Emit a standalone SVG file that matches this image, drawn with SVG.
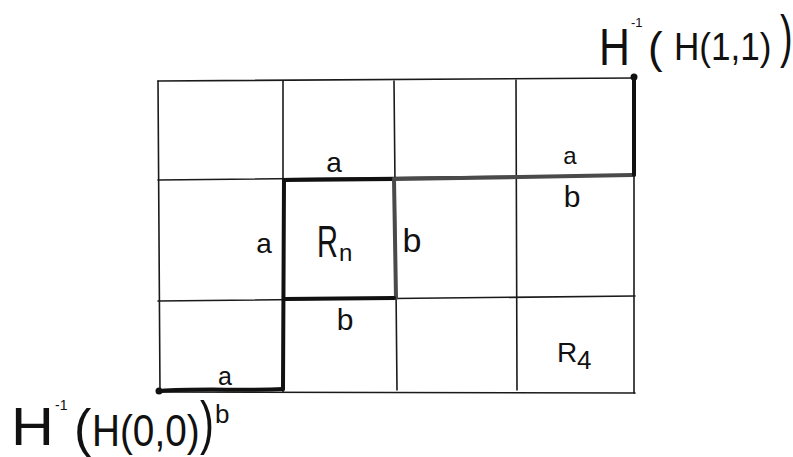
<svg xmlns="http://www.w3.org/2000/svg" width="793" height="457" viewBox="0 0 793 457">
<style>
.thin{stroke:#1a1a1a;stroke-width:1.6;fill:none;stroke-linecap:round}
.thick{stroke:#111;stroke-width:4;fill:none;stroke-linecap:round}
.gray{stroke:#4a4a4a;stroke-width:4;fill:none;stroke-linecap:round}
.lbl{font-family:"Liberation Sans",Arial,sans-serif;fill:#111;text-anchor:middle}
.big{font-family:"Liberation Sans",Arial,sans-serif;fill:#111}
</style>
<rect width="793" height="457" fill="#fff"/>
<g id="grid">
<path class="thin" d="M158,81 L635,78"/>
<path class="thin" d="M158,180 L635,175"/>
<path class="thin" d="M158,301 L635,296"/>
<path class="thin" d="M158,392 L635,393"/>
<path class="thin" d="M158,81 L160,392"/>
<path class="thin" d="M283,81 L283,392"/>
<path class="thin" d="M394,81 L397,390"/>
<path class="thin" d="M516,80 L517,390"/>
<path class="thin" d="M634,78 L634,393"/>
</g>
<g id="connectors">
<path class="thick" d="M160,391 C200,388 240,391 283,389"/>
<path class="thick" d="M283,389 L284,180"/>
<path class="thick" d="M284,180 L394,179"/>
<path class="gray" d="M394,179 L520,177 L632,175"/>
<path class="thick" d="M634,175 L634,79"/>
<path class="gray" d="M394,179 L396,298"/>
<path class="thick" d="M284,299 L394,298"/>
<circle cx="159" cy="391" r="3.5" fill="#111"/>
<circle cx="634" cy="77" r="3.5" fill="#111"/>
</g>
<g id="labels">
<text class="lbl" x="334" y="172" font-size="28">a</text>
<text class="lbl" x="264" y="253" font-size="28">a</text>
<text class="big" transform="translate(317,257) scale(0.66,1)" font-size="44">R</text>
<text class="big" x="339" y="261" font-size="24">n</text>
<text class="lbl" x="412" y="252" font-size="34">b</text>
<text class="lbl" x="345" y="330" font-size="30">b</text>
<text class="lbl" x="570" y="164" font-size="24">a</text>
<text class="lbl" x="572" y="207" font-size="30">b</text>
<text class="big" x="557" y="362" font-size="28">R</text>
<text class="big" x="577" y="369" font-size="26">4</text>
<text class="lbl" x="225" y="385" font-size="25">a</text>
</g>
<g id="top-label">
<text class="big" transform="translate(599,65) scale(0.84,1)" font-size="51">H</text>
<text class="big" x="631" y="27" font-size="13">-1</text>
<text class="big" x="648" y="63" font-size="44">(</text>
<text class="big" transform="translate(674,60) scale(0.9,1)" font-size="39">H(1,1)</text>
<text class="big" transform="translate(780,56) scale(0.65,1)" font-size="58">)</text>
</g>
<g id="bottom-label">
<text class="big" transform="translate(11,445) scale(1.1,1)" font-size="54">H</text>
<text class="big" x="55" y="410" font-size="14">-1</text>
<text class="big" x="74" y="446" font-size="52">(</text>
<text class="big" transform="translate(92,446) scale(0.88,1)" font-size="44">H(0,0)</text>
<text class="big" transform="translate(200,443) scale(0.7,1)" font-size="60">)</text>
<text class="big" x="215" y="423" font-size="26">b</text>
</g>
</svg>
